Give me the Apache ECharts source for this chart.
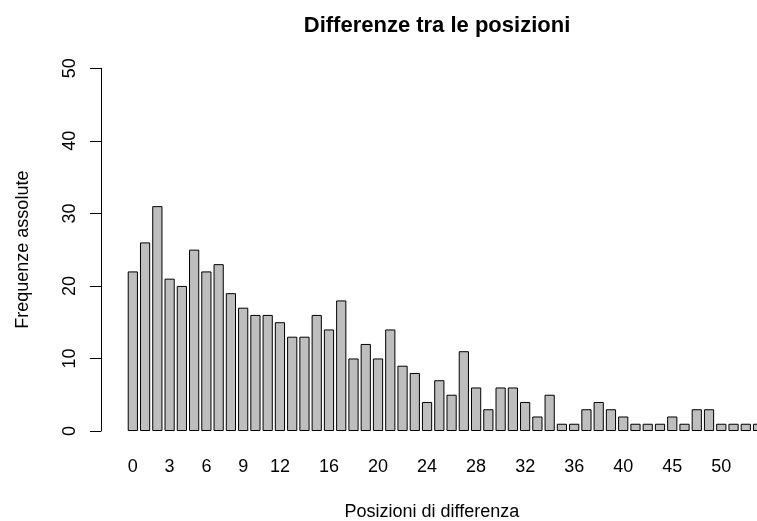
<!DOCTYPE html>
<html>
<head>
    <meta charset="utf-8">
    <title>Differenze tra le posizioni</title>
    <script src="https://cdn.jsdelivr.net/npm/echarts@6/dist/echarts.min.js"></script>
</head>
<body style="margin:0">
<div id="main" style="width: 757px;height:521px;"></div>
<script type="text/javascript">
    // posizioni di differenza (categorie) e frequenze assolute
    const categories = ['0', '1', '2', '3', '4', '5', '6', '7', '8', '9',
        '10', '11', '12', '13', '14', '15', '16', '17', '18', '19',
        '20', '21', '22', '23', '24', '25', '26', '27', '28', '29',
        '30', '31', '32', '33', '34', '35', '36', '37', '38', '39',
        '40', '41', '42', '43', '45', '46', '47', '48', '50', '51', '52', '53'];
    const frequenze = [22, 26, 31, 21, 20, 25, 22, 23, 19, 17,
        16, 16, 15, 13, 13, 16, 14, 18, 10, 12,
        10, 14, 9, 8, 4, 7, 5, 11, 6, 3,
        6, 6, 4, 2, 5, 1, 1, 3, 4, 3,
        2, 1, 1, 1, 2, 1, 3, 3, 1, 1, 1, 1];
    // etichette visibili sull'asse x
    const xTickLabels = ['0', '3', '6', '9', '12', '16', '20', '24', '28', '32', '36', '40', '45', '50'];
    const yTicks = [0, 10, 20, 30, 40, 50];

    const font = 'Liberation Sans';
    const myChart = echarts.init(document.getElementById('main'));

    const option = {
        animation: false,
        title: {
            text: 'Differenze tra le posizioni',
            left: 432,
            top: 10,
            textAlign: 'center',
            textStyle: {fontFamily: font, fontSize: 22, fontWeight: 'bold', color: '#000'}
        },
        grid: {left: 126.7, top: 68.3, width: 637.5, bottom: 90, outerBoundsMode: 'none', containLabel: false},
        xAxis: {
            type: 'category',
            data: categories,
            axisLine: {show: false},
            axisTick: {show: false},
            axisLabel: {
                interval: function (i, v) { return xTickLabels.indexOf(v) >= 0; },
                margin: 27,
                fontFamily: font, fontSize: 18, color: '#000'
            },
            name: 'Posizioni di differenza',
            nameLocation: 'middle',
            nameGap: 72,
            nameTextStyle: {fontFamily: font, fontSize: 18, color: '#000', padding: [0, 27, 0, 0]}
        },
        yAxis: {
            type: 'value',
            min: yTicks[0],
            max: yTicks[yTicks.length - 1],
            interval: 10,
            offset: 25.7,
            splitLine: {show: false},
            axisLine: {show: true, lineStyle: {color: '#000', width: 1}},
            axisTick: {show: true, length: 11, lineStyle: {color: '#000'}},
            axisLabel: {rotate: 90, margin: 22, fontFamily: font, fontSize: 18, color: '#000'},
            name: 'Frequenze assolute',
            nameLocation: 'middle',
            nameRotate: 90,
            nameGap: 69,
            nameTextStyle: {fontFamily: font, fontSize: 18, color: '#000'}
        },
        series: [{
            type: 'bar',
            data: frequenze,
            barCategoryGap: '16.67%',
            itemStyle: {color: '#bebebe', borderColor: '#000', borderWidth: 1}
        }]
    };
    myChart.setOption(option);
</script>
</body>
</html>
